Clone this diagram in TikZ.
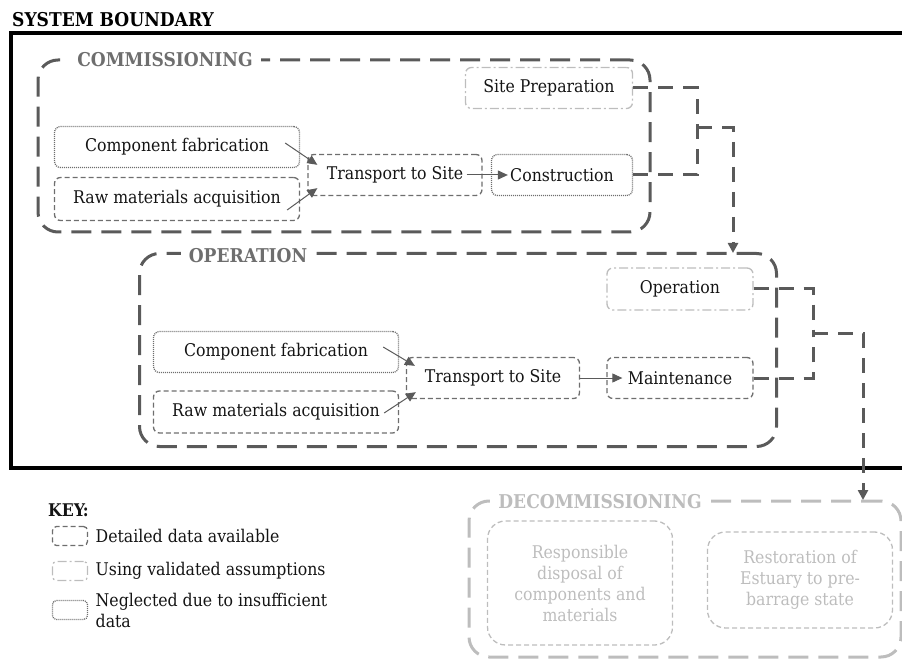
\documentclass[tikz,border=0pt]{standalone}
\usepackage{fontspec}
\setmainfont{DejaVu Serif Condensed}
\usetikzlibrary{positioning, arrows.meta, calc}
\definecolor{linegray}{HTML}{5A5A5A}
\definecolor{boxgray}{HTML}{6E6E6E}
\definecolor{palegray}{HTML}{BDBDBD}
\definecolor{labelgray}{HTML}{6E6E6E}
\definecolor{textdark}{HTML}{141414}

\begin{document}
\begin{tikzpicture}[
    x=1pt, y=-1pt,
    >={Triangle[length=10pt,width=9pt]},
    font=\fontsize{17.5}{21}\selectfont,
    text=textdark,
    stage/.style={
        rectangle,
        rounded corners=20pt,
        draw=linegray,
        line width=3pt,
        dash pattern=on 20pt off 10pt
    },
    stagelabel/.style={
        fill=white,
        inner xsep=8pt,
        inner ysep=1pt,
        text=labelgray,
        font=\fontsize{19}{22}\selectfont\bfseries
    },
    box/.style={
        rectangle,
        rounded corners=6pt,
        line width=1.3pt,
        align=center,
        minimum height=41
    },
    detailed/.style={box, draw=boxgray, dash pattern=on 5pt off 3pt},
    assumed/.style={box, draw=palegray, dash pattern=on 9pt off 3pt on 2pt off 3pt},
    neglected/.style={box, draw=boxgray, dash pattern=on 1pt off 1pt},
    keybox/.style={minimum width=35, minimum height=19, rounded corners=4pt},
    arrow/.style={
        ->,
        line width=1pt,
        draw=linegray
    },
    flow/.style={
        -{Triangle[length=10pt,width=10pt]},
        line width=3pt,
        draw=linegray,
        dash pattern=on 15pt off 10pt
    }
]
    \useasboundingbox (0,0) rectangle (902,660);

    % System boundary
    \node[anchor=base west, inner sep=0pt, text=black, font=\fontsize{19}{22}\selectfont\bfseries] (title) at (12,27) {SYSTEM BOUNDARY};
    \draw[line width=3.5pt] (906,33) -| (11,468) -- (906,468);

    % Commissioning
    \node[stage, minimum width=612, minimum height=172] (comm) at (344,146) {};
    \node[stagelabel] (commlbl) at (165,60) {COMMISSIONING};
    \node[assumed, minimum width=167] (sp) at (549,88) {Site Preparation};
    \node[neglected, minimum width=245] (cf1) at (177,147) {Component fabrication};
    \node[detailed, minimum width=245, minimum height=43] (rm1) at (177,199) {Raw materials acquisition};
    \node[detailed, minimum width=174] (ts1) at (395,175) {Transport to Site};
    \node[neglected, minimum width=141] (con) at (562,175) {Construction};

    \draw[arrow] ($(cf1.east)+(-15,-4)$) -- ($(ts1.north west)+(10,11)$);
    \draw[arrow] ($(rm1.east)+(-13,11)$) -- ($(ts1.south west)+(10,-8)$);
    \draw[arrow] ($(ts1.east)+(-16,0)$) -- ($(con.west)+(17,0)$);

    % Operation
    \node[stage, minimum width=637, minimum height=193] (oper) at (458,350) {};
    \node[stagelabel] (operlbl) at (248,256) {OPERATION};
    \node[assumed, minimum width=146, minimum height=42] (op) at (680,289) {Operation};
    \node[neglected, minimum width=245] (cf2) at (276,352) {Component fabrication};
    \node[detailed, minimum width=245, minimum height=42] (rm2) at (276,412) {Raw materials acquisition};
    \node[detailed, minimum width=173] (ts2) at (493,378) {Transport to Site};
    \node[detailed, minimum width=146] (mt) at (680,378) {Maintenance};

    \draw[arrow] ($(cf2.east)+(-16,-5)$) -- ($(ts2.north west)+(9,9)$);
    \draw[arrow] ($(rm2.east)+(-15,1)$) -- ($(ts2.south west)+(10,-7)$);
    \draw[arrow] (ts2.east) -- ($(mt.west)+(16,0)$);

    % Decommissioning
    \node[stage, draw=palegray, minimum width=432, minimum height=156] (decom) at (685,579) {};
    \node[stagelabel, text=palegray] (decomlbl) at (600,502) {DECOMMISSIONING};
    \node[detailed, draw=palegray, text=palegray, minimum width=185, minimum height=124, rounded corners=18pt] (rd) at (580,583) {Responsible\\disposal of\\components and\\materials};
    \node[detailed, draw=palegray, text=palegray, minimum width=185, minimum height=96, rounded corners=18pt] (re) at (800,580) {Restoration of\\Estuary to pre-\\barrage state};

    % Flows between stages
    \coordinate (j1) at (697,128);
    \coordinate (d1) at (733,253);
    \draw[flow, -] (sp.east) -| (j1);
    \draw[flow, -] (con.east) -| (j1);
    \draw[flow] (j1) -| (d1);

    \coordinate (j2) at (813,333);
    \coordinate (d2) at (863,500);
    \draw[flow, -] (op.east) -| (j2);
    \draw[flow, -] (mt.east) -| (j2);
    \draw[flow] (j2) -| (d2);

    % Key
    \node[anchor=base west, inner sep=0pt, font=\fontsize{17.5}{21}\selectfont\bfseries] (key) at (48,516) {KEY:};
    \node[detailed, keybox] (k1) at (70,536) {};
    \node[assumed, keybox] (k2) at (70,571) {};
    \node[neglected, keybox] (k3) at (70,610) {};
    \node[right=4pt of k1] (k1txt) {Detailed data available};
    \node[right=4pt of k2] (k2txt) {Using validated assumptions};
    \node[right=4pt of k3, align=left, anchor=north west, yshift=20pt] (k3txt) {Neglected due to insufficient\\data};
\end{tikzpicture}
\end{document}
